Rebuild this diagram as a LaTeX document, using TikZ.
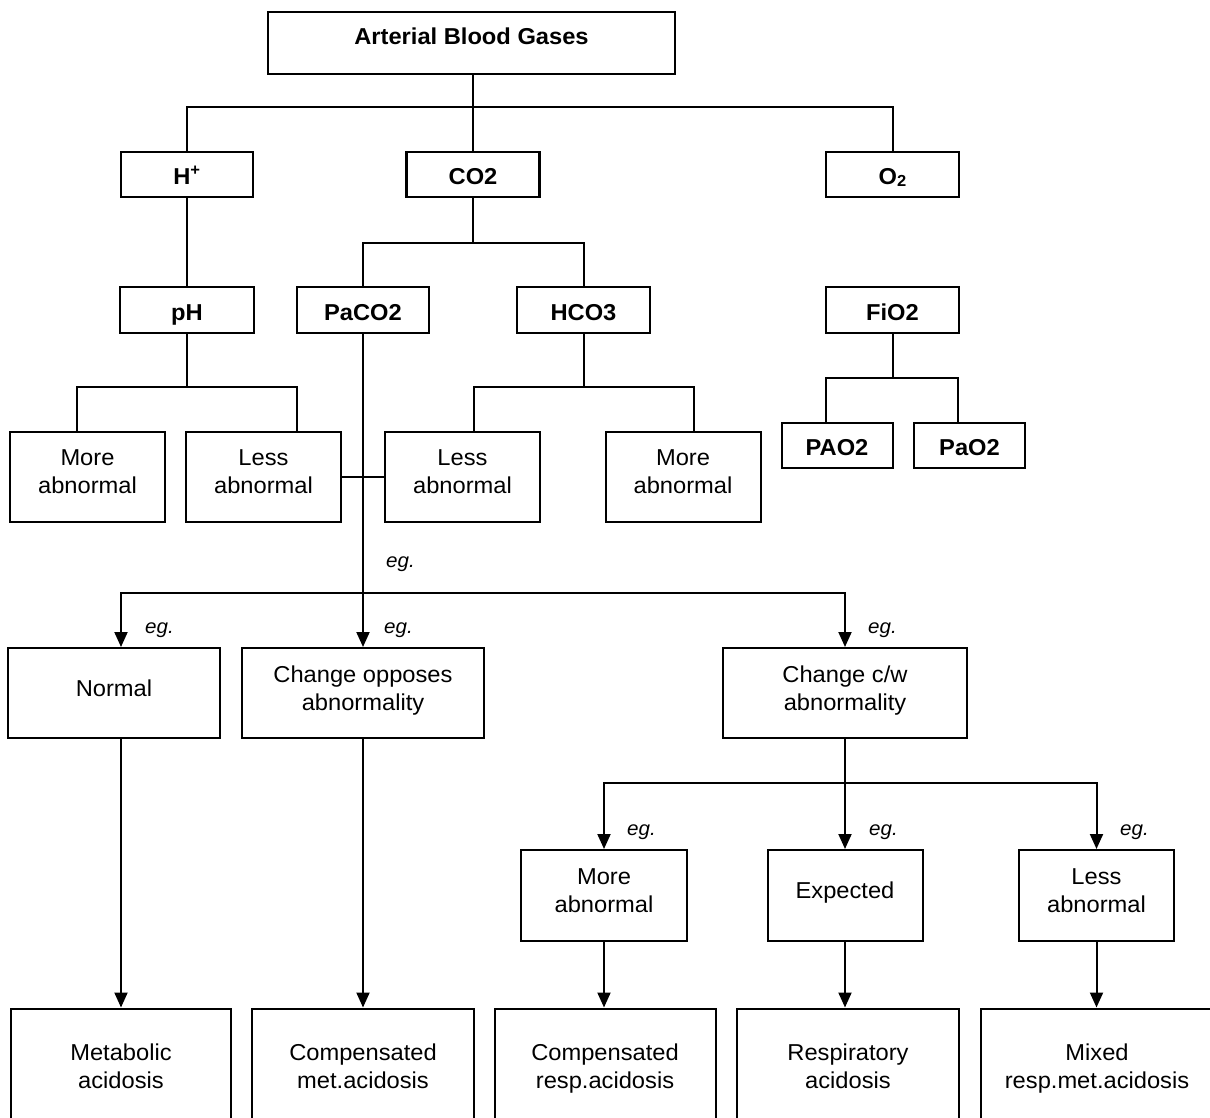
\documentclass[tikz,border=0pt]{standalone}
\usepackage{fontspec}
\setmainfont{Liberation Sans}[FakeStretch=1.03]
\usetikzlibrary{arrows.meta,calc}
\begin{document}
\begin{tikzpicture}[x=1pt,y=-1pt,
  every node/.style={font=\fontsize{23}{28}\selectfont},
  box/.style={draw, line width=2pt, align=center, inner sep=0pt, text depth=10pt},
  lowbox/.style={draw, line width=2pt, align=center, inner sep=0pt, text depth=0pt},
  topbox/.style={draw, line width=2.4pt, inner sep=0pt, font=\fontsize{23}{28}\selectfont\bfseries, text height=20.5pt, text depth=0pt},
  bbox/.style={draw, line width=2pt, inner sep=0pt, font=\fontsize{23}{28}\selectfont\bfseries, text height=20.5pt, text depth=0pt},
  conn/.style={line width=2pt},
  arr/.style={conn, -{Triangle[length=15pt,width=13pt]}},
  eglab/.style={anchor=west, inner sep=0pt, font=\fontsize{20}{24}\selectfont\itshape}
]
\clip (0,0) rectangle (1210,1118);
\fill[white] (0,0) rectangle (1210,1118);

% level 0
\node[topbox, minimum width=407pt, minimum height=62pt, text height=15pt, text depth=11pt] (abg) at (471.5,43) {Arterial Blood Gases};
% level 1
\node[topbox, minimum width=132pt, minimum height=45pt] (hp) at (187,174.5) {H\textsuperscript{+}};
\node[topbox, minimum width=133pt, minimum height=45pt] (co2) at (473,174.5) {CO2};
\node[topbox, minimum width=133pt, minimum height=45pt] (o2) at (892.5,174.5) {O\raisebox{-2pt}{\fontsize{16}{18}\selectfont 2}};
% level 2
\node[bbox, minimum width=134pt, minimum height=46pt] (ph) at (187,310) {pH};
\node[bbox, minimum width=132pt, minimum height=46pt] (paco2) at (363,310) {PaCO2};
\node[bbox, minimum width=133pt, minimum height=46pt] (hco3) at (583.5,310) {HCO3};
\node[bbox, minimum width=133pt, minimum height=46pt] (fio2) at (892.5,310) {FiO2};
% level 3
\node[box, minimum width=155pt, minimum height=90pt] (ma1) at (87.5,477) {More\\abnormal};
\node[box, minimum width=155pt, minimum height=90pt] (la1) at (263.5,477) {Less\\abnormal};
\node[box, minimum width=155pt, minimum height=90pt] (la2) at (462.5,477) {Less\\abnormal};
\node[box, minimum width=155pt, minimum height=90pt] (ma2) at (683,477) {More\\abnormal};
\node[bbox, minimum width=111pt, minimum height=45pt] (pA) at (837,445) {PAO2};
\node[bbox, minimum width=111pt, minimum height=45pt] (pa) at (969.5,445) {PaO2};
% level 4
\node[box, minimum width=212pt, minimum height=90pt] (normal) at (114,693) {Normal};
\node[box, minimum width=242pt, minimum height=90pt] (opp) at (363,693) {Change opposes\\abnormality};
\node[box, minimum width=244pt, minimum height=90pt] (cw) at (845,693) {Change c/w\\abnormality};
% level 5
\node[box, minimum width=166pt, minimum height=91pt] (ma3) at (604,895.5) {More\\abnormal};
\node[box, minimum width=155pt, minimum height=91pt] (exp) at (845,895.5) {Expected};
\node[box, minimum width=155pt, minimum height=91pt] (la3) at (1096.5,895.5) {Less\\abnormal};
% level 6
\node[lowbox, minimum width=220pt, minimum height=115pt] (metab) at (121,1066) {Metabolic\\acidosis};
\node[lowbox, minimum width=222pt, minimum height=115pt] (compmet) at (363,1066) {Compensated\\met.acidosis};
\node[lowbox, minimum width=221pt, minimum height=115pt] (compresp) at (605,1066) {Compensated\\resp.acidosis};
\node[lowbox, minimum width=222pt, minimum height=115pt] (resp) at (848,1066) {Respiratory\\acidosis};
\node[lowbox, minimum width=233pt, minimum height=115pt] (mixed) at (1097,1066) {Mixed\\resp.met.acidosis};

% junction coordinates
\coordinate (j1) at (473,107);
\coordinate (j2) at (473,243);
\coordinate (j3) at (187,387);
\coordinate (j4) at (583.5,387);
\coordinate (j5) at (892.5,377.5);
\coordinate (j6) at (363,593);
\coordinate (j7) at (845,783);

% connectors
\draw[conn] (abg.south -| co2.north) -- (co2.north);
\draw[conn] (hp.north) |- (j1) -| (o2.north);
\draw[conn] (hp.south) -- (ph.north);
\draw[conn] (co2.south) -- (j2);
\draw[conn] (paco2.north) |- (j2) -| (hco3.north);
\draw[conn] (ph.south) -- (j3);
\draw[conn] ($(ma1.north west)!0.43!(ma1.north east)$) |- (j3) -| ($(la1.north west)!0.716!(la1.north east)$);
\draw[conn] (hco3.south) -- (j4);
\draw[conn] ($(la2.north west)!0.572!(la2.north east)$) |- (j4) -| ($(ma2.north west)!0.57!(ma2.north east)$);
\draw[conn] (fio2.south) -- (j5);
\draw[conn] ($(pA.north west)!0.4!(pA.north east)$) |- (j5) -| ($(pa.north west)!0.4!(pa.north east)$);
\draw[conn] (la1.east) -- (la2.west);
\draw[arr] (paco2.south) -- (opp.north);
\draw[arr] (j6) -| (metab.north |- normal.north);
\draw[arr] (j6) -| (cw.north);
\draw[arr] (metab.north |- normal.south) -- (metab.north);
\draw[arr] (opp.south) -- (compmet.north);
\draw[conn] (cw.south) -- (j7);
\draw[arr] (j7) -| (ma3.north);
\draw[arr] (j7) -- (exp.north);
\draw[arr] (j7) -| (la3.north);
\draw[arr] (ma3.south) -- (ma3.south |- compresp.north);
\draw[arr] (exp.south) -- (exp.south |- resp.north);
\draw[arr] (la3.south) -- (la3.south |- mixed.north);

% eg. labels
\node[eglab] (eg0) at (386,564) {eg.};
\node[eglab] (eg1) at (145,630) {eg.};
\node[eglab] (eg2) at (384,630) {eg.};
\node[eglab] (eg3) at (868,630) {eg.};
\node[eglab] (eg4) at (627,832) {eg.};
\node[eglab] (eg5) at (869,832) {eg.};
\node[eglab] (eg6) at (1120,832) {eg.};
\end{tikzpicture}
\end{document}
